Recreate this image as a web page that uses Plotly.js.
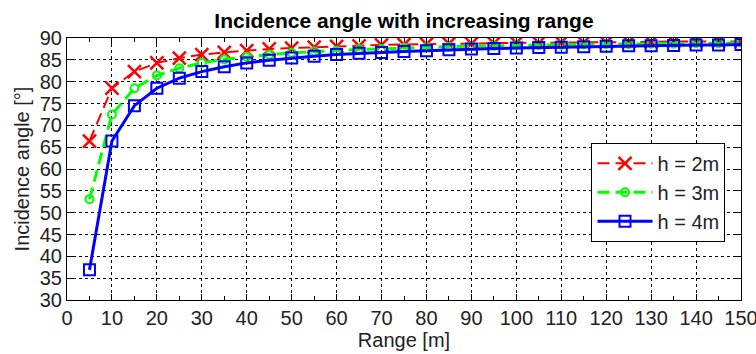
<!DOCTYPE html>
<html>
<head>
<meta charset="utf-8">
<script src="https://cdn.plot.ly/plotly-3.0.1.min.js"></script>
<style>html,body{margin:0;padding:0;background:#fff;}#chart{width:756px;height:354px;}</style>
</head>
<body>
<div id="chart"></div>
<script>
const range = [5,10,15,20,25,30,35,40,45,50,55,60,65,70,75,80,85,90,95,100,105,110,115,120,125,130,135,140,145,150];
const h2 = [66.4,78.5,82.3,84.3,85.4,86.2,86.7,87.1,87.5,87.7,87.9,88.1,88.2,88.4,88.5,88.6,88.7,88.7,88.8,88.9,88.9,89.0,89.0,89.0,89.1,89.1,89.2,89.2,89.2,89.2];
const h3 = [53.1,72.5,78.5,81.4,83.1,84.3,85.1,85.7,86.2,86.6,86.9,87.1,87.4,87.5,87.7,87.9,88.0,88.1,88.2,88.3,88.4,88.4,88.5,88.6,88.6,88.7,88.7,88.8,88.8,88.9];
const h4 = [36.9,66.4,74.5,78.5,80.8,82.3,83.4,84.3,84.9,85.4,85.8,86.2,86.5,86.7,86.9,87.1,87.3,87.5,87.6,87.7,87.8,87.9,88.0,88.1,88.2,88.2,88.3,88.4,88.4,88.5];
const names = ['h = 2m','h = 3m','h = 4m'];
const xTicks = [0,10,20,30,40,50,60,70,80,90,100,110,120,130,140,150];
const yTicks = [30,35,40,45,50,55,60,65,70,75,80,85,90];

const font = 'Liberation Sans, Arial, sans-serif';
const fs = 20;
const traces = [
  {x: range, y: h2, name: names[0], mode: 'lines+markers',
   line: {color: '#ff0000', width: 2, dash: '12px,6px'},
   marker: {symbol: 'x-thin-open', size: 13, color: '#ff0000', line: {width: 2.5, color: '#ff0000'}}},
  {x: range, y: h3, name: names[1], mode: 'lines+markers',
   line: {color: '#00ff00', width: 3, dash: '12px,6px'},
   marker: {symbol: 'circle-open', size: 8, color: '#00ff00', line: {width: 2, color: '#00ff00'}}},
  {x: range, y: h4, name: names[2], mode: 'lines+markers',
   line: {color: '#0000ff', width: 3},
   marker: {symbol: 'square-open', size: 11, color: '#0000ff', line: {width: 2, color: '#0000ff'}}}
];

const layout = {
  width: 756, height: 354,
  margin: {l: 67, r: 15, t: 38, b: 54},
  paper_bgcolor: '#fff', plot_bgcolor: '#fff',
  font: {family: font, size: fs, color: '#222'},
  title: {text: '<b>Incidence angle with increasing range</b>', font: {family: font, size: 21, color: '#000'},
          x: 0.5, xref: 'paper', y: 0.962, yref: 'container'},
  xaxis: {range: [0, 150], tickvals: xTicks, ticks: 'inside', ticklen: 6, tickcolor: '#000',
          showline: true, linecolor: '#000', linewidth: 1, mirror: 'ticks',
          showgrid: true, gridcolor: '#000', griddash: 'dot', gridwidth: 1, zeroline: false,
          ticklabeloverflow: 'allow',
          minor: {dtick: 5, tick0: 0, ticks: 'inside', ticklen: 4, tickcolor: '#000', showgrid: false},
          tickfont: {family: font, size: fs, color: '#222'},
          title: {text: 'Range [m]', font: {family: font, size: fs, color: '#222'}, standoff: 4}},
  yaxis: {range: [30, 90], tickvals: yTicks, ticks: 'inside', ticklen: 6, tickcolor: '#000',
          showline: true, linecolor: '#000', linewidth: 1, mirror: 'ticks',
          showgrid: true, gridcolor: '#000', griddash: 'dot', gridwidth: 1, zeroline: false,
          tickfont: {family: font, size: fs, color: '#222'},
          title: {text: 'Incidence angle [°]', font: {family: font, size: fs, color: '#222'}, standoff: 4}},
  legend: {x: 0.977, xanchor: 'right', y: 0.6, yanchor: 'top', bgcolor: '#fff',
           bordercolor: '#000', borderwidth: 1, font: {family: font, size: fs, color: '#222'},
           itemwidth: 55, tracegroupgap: 0}
};
Plotly.newPlot('chart', traces, layout, {displayModeBar: false, staticPlot: true});
</script>
</body>
</html>
